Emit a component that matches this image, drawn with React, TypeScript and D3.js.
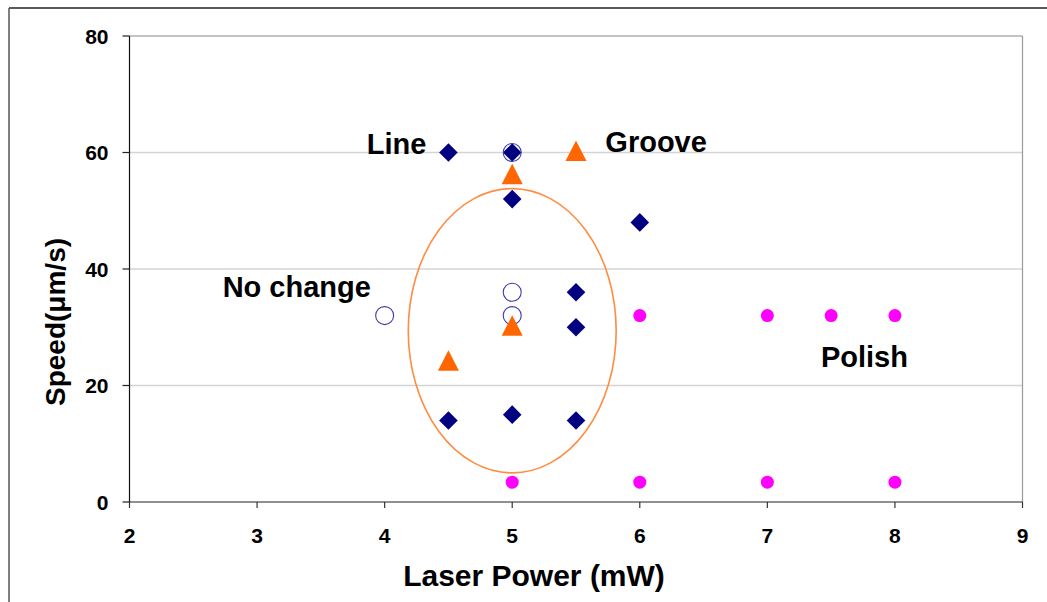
import React from "react";
import * as d3 from "d3";

// Laser processing outcome map: speed vs. laser power
const lineX = [4.5, 5, 5, 6, 5.5, 5.5, 4.5, 5, 5.5];
const lineY = [60, 60, 52, 48, 36, 30, 14, 15, 14];

const noChangeX = [4, 5, 5, 5];
const noChangeY = [32, 36, 32, 60];

const grooveX = [5.5, 5, 4.5, 5];
const grooveY = [60, 56, 24, 30];

const polishX = [6, 7, 7.5, 8, 5, 6, 7, 8];
const polishY = [32, 32, 32, 32, 3.4, 3.4, 3.4, 3.4];

const xTicks = [2, 3, 4, 5, 6, 7, 8, 9];
const yTicks = [0, 20, 40, 60, 80];

// Region annotations (data coordinates, text start / baseline)
const regionNames = ["Line", "Groove", "No change", "Polish"];
const regionX = [3.86, 5.73, 2.73, 7.42];
const regionY = [59.8, 60.1, 35.2, 23.2];

// Highlight ellipse around the mixed region (data units)
const ellipseCx = 5.0;
const ellipseCy = 29.4;
const ellipseRx = 0.815;
const ellipseRy = 24.4;

const W = 1047;
const H = 602;
const FONT = "'Liberation Sans', Arial, sans-serif";

export default function App() {
  const x = d3.scaleLinear().domain([2, 9]).range([129.5, 1022.5]);
  const y = d3.scaleLinear().domain([0, 80]).range([502, 36]);
  const [x0, x1] = x.range();
  const [y0, y1] = y.range();

  const diamond = d3.symbol().type(d3.symbolDiamond2).size(10.5 * 10.5 * 2)();
  const tri = d3.line()([
    [0, -12],
    [10.5, 8.5],
    [-10.5, 8.5],
  ]) + "Z";

  return (
    <svg
      width={W}
      height={H}
      style={{ position: "absolute", left: 0, top: 0, background: "#fff" }}
      fontFamily={FONT}
    >
      {/* outer frame */}
      <line x1={9} x2={W} y1={8} y2={8} stroke="#222" strokeWidth={1.5} />
      <line x1={9} x2={9} y1={8} y2={H} stroke="#555" strokeWidth={1.5} />

      {/* gridlines */}
      {yTicks
        .filter((t) => t > 0 && t < 80)
        .map((t) => (
          <line key={t} x1={x0} x2={x1} y1={y(t)} y2={y(t)} stroke="#d4d4d4" strokeWidth={1.3} />
        ))}
      {/* plot area border (top, right) */}
      <line x1={x0} x2={x1} y1={y(80)} y2={y(80)} stroke="#8a8a8a" strokeWidth={1.2} />
      <line x1={x1} x2={x1} y1={y1} y2={y0} stroke="#9a9a9a" strokeWidth={1.2} />

      {/* axes */}
      <line x1={x0} x2={x1} y1={y0} y2={y0} stroke="#222" strokeWidth={1.2} />
      <line x1={x0} x2={x0} y1={y1} y2={y0} stroke="#111" strokeWidth={1.2} />
      {xTicks.map((t) => (
        <g key={t}>
          <line x1={x(t)} x2={x(t)} y1={y0} y2={y0 + 6} stroke="#333" strokeWidth={1.2} />
          <text x={x(t)} y={543} textAnchor="middle" fontSize={21} fontWeight="bold" fill="#000">
            {t}
          </text>
        </g>
      ))}
      {yTicks.map((t) => (
        <g key={t}>
          <line x1={x0 - 7} x2={x0} y1={y(t)} y2={y(t)} stroke="#222" strokeWidth={1.2} />
          <text
            x={108.5}
            y={y(t)}
            dy="0.36em"
            textAnchor="end"
            fontSize={21}
            fontWeight="bold"
            fill="#000"
          >
            {t}
          </text>
        </g>
      ))}

      {/* axis titles */}
      <text x={534} y={586} textAnchor="middle" fontSize={30} fontWeight="bold" fill="#000">
        Laser Power (mW)
      </text>
      <text
        transform="translate(65,322) rotate(-90)"
        textAnchor="middle"
        fontSize={28}
        fontWeight="bold"
        fill="#000"
      >
        Speed(μm/s)
      </text>

      {/* highlight ellipse */}
      <ellipse
        cx={x(ellipseCx)}
        cy={y(ellipseCy)}
        rx={x(ellipseCx + ellipseRx) - x(ellipseCx)}
        ry={y(ellipseCy - ellipseRy) - y(ellipseCy)}
        fill="none"
        stroke="#ff8c42"
        strokeWidth={1.6}
      />

      {/* Line: navy diamonds */}
      {lineX.map((v, i) => (
        <path key={"l" + i} d={diamond!} transform={`translate(${x(v)},${y(lineY[i])})`} fill="#000080" />
      ))}
      {/* No change: open circles */}
      {noChangeX.map((v, i) => (
        <circle
          key={"n" + i}
          cx={x(v)}
          cy={y(noChangeY[i])}
          r={9}
          fill="none"
          stroke="#3b3bb0"
          strokeWidth={1.1}
        />
      ))}
      {/* Groove: orange triangles */}
      {grooveX.map((v, i) => (
        <path key={"g" + i} d={tri} transform={`translate(${x(v)},${y(grooveY[i])})`} fill="#ff6600" />
      ))}
      {/* Polish: magenta dots */}
      {polishX.map((v, i) => (
        <circle key={"p" + i} cx={x(v)} cy={y(polishY[i])} r={6.5} fill="#ff00ff" />
      ))}

      {/* region labels */}
      {regionNames.map((name, i) => (
        <text key={name} x={x(regionX[i])} y={y(regionY[i])} fontSize={29} fontWeight="bold" fill="#000">
          {name}
        </text>
      ))}
    </svg>
  );
}
